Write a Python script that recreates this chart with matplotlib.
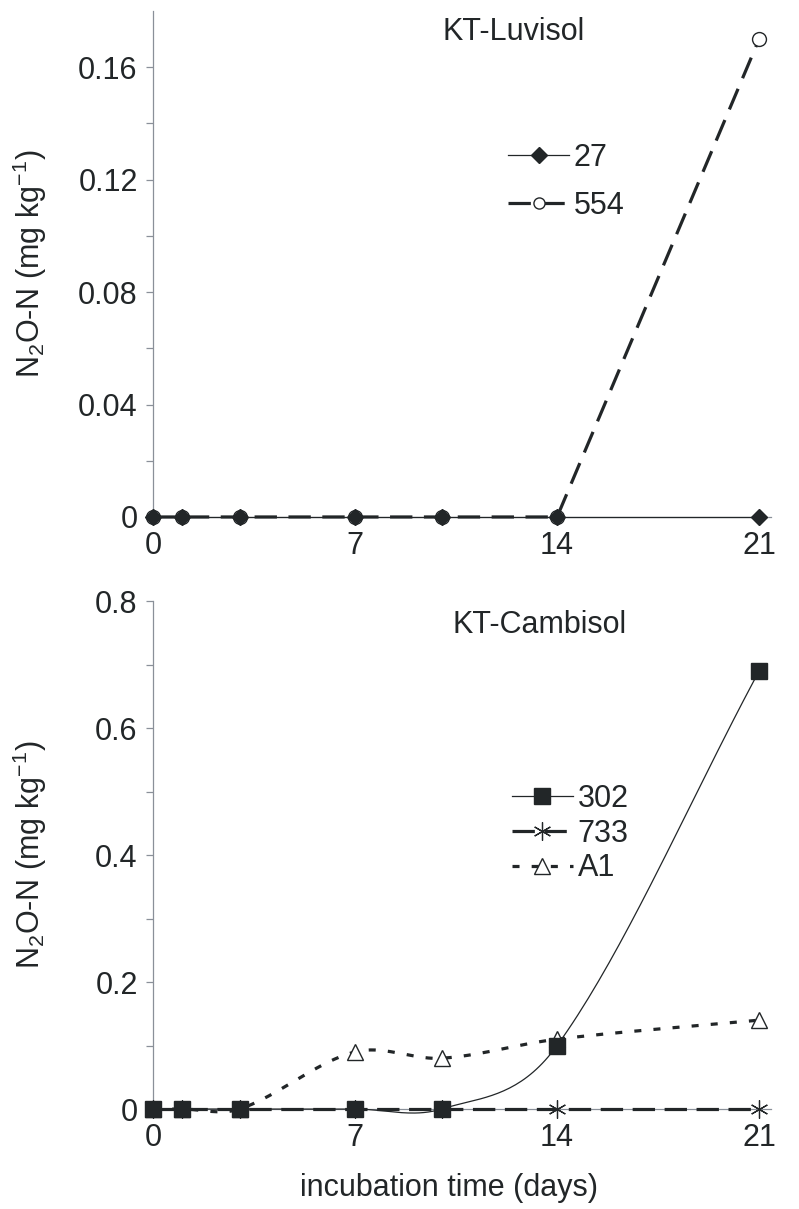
import numpy as np
import matplotlib.pyplot as plt
from matplotlib.lines import Line2D

plt.rcParams['font.family'] = ['Liberation Sans', 'DejaVu Sans']
plt.rcParams['mathtext.default'] = 'regular'

# sampling days
days = [0, 1, 3, 7, 10, 14, 21]

# KT-Luvisol, N2O-N (mg/kg)
luv_27 = [0, 0, 0, 0, 0, 0, 0]
luv_554 = [0, 0, 0, 0, 0, 0, 0.17]

# KT-Cambisol, N2O-N (mg/kg)
cam_302 = [0, 0, 0, 0, 0, 0.10, 0.69]
cam_733 = [0, 0, 0, 0, 0, 0, 0]
cam_a1 = [0, 0, 0, 0.09, 0.08, 0.11, 0.14]

luv_ticks = [0, 0.04, 0.08, 0.12, 0.16]
luv_labels = ['0', '0.04', '0.08', '0.12', '0.16']
cam_ticks = [0, 0.2, 0.4, 0.6, 0.8]
cam_labels = ['0', '0.2', '0.4', '0.6', '0.8']

ink = '#222628'
axis_grey = '#8a9099'
fs = 22


def smooth(x, y, n=40):
    # piecewise cubic hermite curve through the points, slopes from neighbours
    x = np.asarray(x, float)
    y = np.asarray(y, float)
    m = np.empty_like(y)
    m[1:-1] = (y[2:] - y[:-2]) / (x[2:] - x[:-2])
    m[0] = (y[1] - y[0]) / (x[1] - x[0])
    m[-1] = (y[-1] - y[-2]) / (x[-1] - x[-2])
    t = np.linspace(0, 1, n)
    xs, ys = [], []
    for i in range(len(x) - 1):
        h = x[i + 1] - x[i]
        px = [x[i], x[i] + h / 3, x[i + 1] - h / 3, x[i + 1]]
        py = [y[i], y[i] + m[i] * h / 3, y[i + 1] - m[i + 1] * h / 3, y[i + 1]]
        b = [(1 - t) ** 3, 3 * (1 - t) ** 2 * t, 3 * (1 - t) * t ** 2, t ** 3]
        sx = sum(bi * pi for bi, pi in zip(b, px))
        sy = sum(bi * pi for bi, pi in zip(b, py))
        start = 0 if i == 0 else 1
        xs.append(sx[start:])
        ys.append(sy[start:])
    return np.concatenate(xs), np.concatenate(ys)


def style_axes(ax, top, ticks, labels):
    ax.set_xlim(0, 21.4)
    ax.set_ylim(0, top)
    for s in ['top', 'right']:
        ax.spines[s].set_visible(False)
    for s in ['left', 'bottom']:
        ax.spines[s].set_color(axis_grey)
        ax.spines[s].set_linewidth(0.9)
    ax.set_xticks([0, 7, 14, 21])
    ax.set_xticklabels(['0', '7', '14', '21'])
    ax.set_yticks(ticks)
    ax.set_yticklabels(labels)
    step = ticks[1] - ticks[0]
    ax.set_yticks(np.arange(step / 2, top, step), minor=True)
    ax.tick_params(axis='x', length=0, pad=10, labelsize=fs, colors=ink)
    ax.tick_params(axis='y', which='both', direction='out', length=5, width=0.9,
                   color=axis_grey, pad=6, labelsize=fs, labelcolor=ink)
    ax.set_ylabel('N$_2$O-N (mg kg$^{-1}$)', fontsize=fs, color=ink)
    ax.yaxis.set_label_coords(-0.168, 0.5)


fig = plt.figure(figsize=(7.99, 12.09), dpi=100)
ax1 = fig.add_axes([0.1915, 0.5724, 0.773, 0.4185])
ax2 = fig.add_axes([0.1915, 0.0827, 0.773, 0.420])

# top panel
style_axes(ax1, 0.18, luv_ticks, luv_labels)
ax1.plot(days, luv_27, color=ink, lw=0.9, zorder=3, clip_on=False)
ax1.plot(days, luv_554, color=ink, lw=2.3, linestyle=(0, (7, 3.6)), zorder=4, clip_on=False)
ax1.plot(days, luv_554, 'o', ms=10, mfc='white', mec=ink, mew=1.0, zorder=5, clip_on=False)
ax1.plot(days, luv_27, 'D', ms=8, color=ink, zorder=6, clip_on=False)
ax1.text(0.468, 0.958, 'KT-Luvisol', transform=ax1.transAxes, fontsize=fs,
         color=ink, ha='left', va='center')
h1 = [Line2D([], [], color=ink, lw=0.9, marker='D', ms=8),
      Line2D([], [], color=ink, lw=2.3, linestyle=(0, (7, 3.6)), marker='o', ms=8,
             mfc='white', mec=ink)]
ax1.legend(h1, ['27', '554'], loc='upper left', bbox_to_anchor=(0.575, 0.74),
           frameon=False, fontsize=fs, labelcolor=ink, handlelength=2.0,
           handletextpad=0.15, labelspacing=0.6, borderpad=0, borderaxespad=0)

# bottom panel
style_axes(ax2, 0.8, cam_ticks, cam_labels)
sx, sy = smooth(days, cam_302)
ax2.plot(sx, sy, color=ink, lw=0.9, zorder=3, clip_on=False)
ax2.plot(days, cam_733, color=ink, lw=2.3, linestyle=(0, (7, 3)), zorder=4, clip_on=False)
ax_, ay_ = smooth(days, cam_a1)
ax2.plot(ax_, ay_, color=ink, lw=2.3, linestyle=(0, (2.2, 3.8)), zorder=4, clip_on=False)
ax2.plot(days, cam_733, linestyle='none', marker=(6, 2, 0), ms=13, mec=ink,
         mew=0.9, zorder=5, clip_on=False)
ax2.plot(days, cam_a1, '^', ms=12, mfc='white', mec=ink, mew=1.0, zorder=6, clip_on=False)
ax2.plot(days, cam_302, 's', ms=11, color=ink, zorder=7, clip_on=False)
ax2.text(0.485, 0.953, 'KT-Cambisol', transform=ax2.transAxes, fontsize=fs,
         color=ink, ha='left', va='center')
h2 = [Line2D([], [], color=ink, lw=0.9, marker='s', ms=11),
      Line2D([], [], color=ink, lw=2.3, linestyle=(0, (7, 3)), marker=(6, 2, 0),
             ms=13, mec=ink, mew=0.9),
      Line2D([], [], color=ink, lw=2.3, linestyle=(0, (2.2, 3.8)), marker='^',
             ms=12, mfc='white', mec=ink)]
ax2.legend(h2, ['302', '733', 'A1'], loc='upper left', bbox_to_anchor=(0.581, 0.64),
           frameon=False, fontsize=fs, labelcolor=ink, handlelength=2.0,
           handletextpad=0.15, labelspacing=0.15, borderpad=0, borderaxespad=0)
ax2.set_xlabel('incubation time (days)', fontsize=fs, color=ink)
ax2.xaxis.set_label_coords(0.48, -0.126)

fig.savefig('out.png', dpi=100)
